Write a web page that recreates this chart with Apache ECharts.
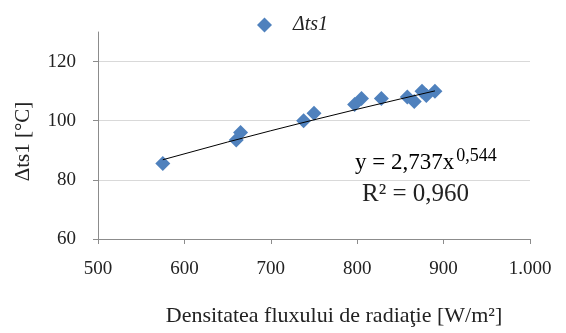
<!DOCTYPE html>
<html>
<head>
<meta charset="utf-8">
<script src="https://cdn.jsdelivr.net/npm/echarts@6/dist/echarts.min.js"></script>
<style>html,body{margin:0;padding:0;background:#fff}#c{width:566px;height:333px}</style>
</head>
<body>
<div id="c"></div>
<script>
const seriesName = 'Δts1';
const radiation = [575, 660, 665, 738, 750, 797, 805, 828, 858, 866, 875, 880, 890];
const deltaTs1 = [85.5, 93.5, 96, 100, 102.5, 105.5, 107.5, 107.5, 108, 106.5, 110, 108.5, 110];
const yTicks = [60, 80, 100, 120];
const trendCoef = 2.737;
const trendExp = 0.544;

const chart = echarts.init(document.getElementById('c'), null, {renderer: 'canvas'});
const serif = '"Liberation Serif", "Times New Roman", serif';
const trendXs = [radiation[0], 650, 700, 750, 800, 850, radiation[radiation.length - 1]];
const trend = trendXs.map(x => [x, trendCoef * Math.pow(x, trendExp)]);

chart.setOption({
  animation: false,
  backgroundColor: '#fff',
  grid: {left: 98, right: 36, top: 32, bottom: 94},
  legend: {
    data: [{name: seriesName, icon: 'diamond'}],
    left: 252, top: 10,
    itemWidth: 15, itemHeight: 15, itemGap: 10,
    textStyle: {fontFamily: serif, fontStyle: 'italic', fontSize: 20, color: '#222', padding: [0, 0, 0, 16]}
  },
  xAxis: {
    type: 'value', min: 500, max: 1000, interval: 100,
    axisLine: {show: true, lineStyle: {color: '#8c8c8c', width: 1}},
    axisTick: {show: true, length: 5, lineStyle: {color: '#8c8c8c'}},
    splitLine: {show: false},
    axisLabel: {
      fontFamily: serif, fontSize: 19, color: '#222', margin: 21,
      formatter: v => v >= 1000 ? (Math.floor(v / 1000) + '.' + String(v % 1000).padStart(3, '0')) : String(v)
    },
    name: 'Densitatea fluxului de radiaţie [W/m²]',
    nameLocation: 'middle', nameGap: 66,
    nameTextStyle: {fontFamily: serif, fontSize: 22, color: '#222', padding: [0, 0, 0, 40]}
  },
  yAxis: {
    type: 'value', min: 60, max: 130, interval: 20,
    axisLine: {show: true, lineStyle: {color: '#8c8c8c', width: 1}},
    axisTick: {show: true, length: 5, customValues: yTicks, lineStyle: {color: '#8c8c8c'}},
    splitLine: {show: true, showMinLine: false, lineStyle: {color: '#d9d9d9', width: 1}},
    axisLabel: {fontFamily: serif, fontSize: 19, color: '#222', margin: 22, customValues: yTicks},
    name: 'Δts1 [°C]',
    nameLocation: 'middle', nameGap: 64, nameRotate: 90,
    nameTextStyle: {fontFamily: serif, fontSize: 21, color: '#222', padding: [0, 12, 0, 0]}
  },
  series: [
    {
      name: seriesName, type: 'scatter', symbol: 'diamond', symbolSize: 15,
      itemStyle: {color: '#4f81bd', opacity: 1},
      data: radiation.map((x, i) => [x, deltaTs1[i]]),
      z: 2
    },
    {
      name: 'trend', type: 'line', data: trend, showSymbol: false, smooth: false,
      lineStyle: {color: '#000', width: 1}, z: 3, silent: true
    }
  ],
  graphic: [
    {
      type: 'text', left: 355, top: 147,
      style: {
        rich: {
          a: {fontFamily: serif, fontSize: 23, color: '#222'},
          s: {fontFamily: serif, fontSize: 18, color: '#222', verticalAlign: 'top', padding: [0, 0, 14, 2]}
        },
        text: '{a|y = 2,737x}{s|0,544}'
      }
    },
    {
      type: 'text', left: 362, top: 182,
      style: {fontFamily: serif, fontSize: 25, fill: '#222', text: 'R² = 0,960'}
    }
  ]
});
</script>
</body>
</html>
